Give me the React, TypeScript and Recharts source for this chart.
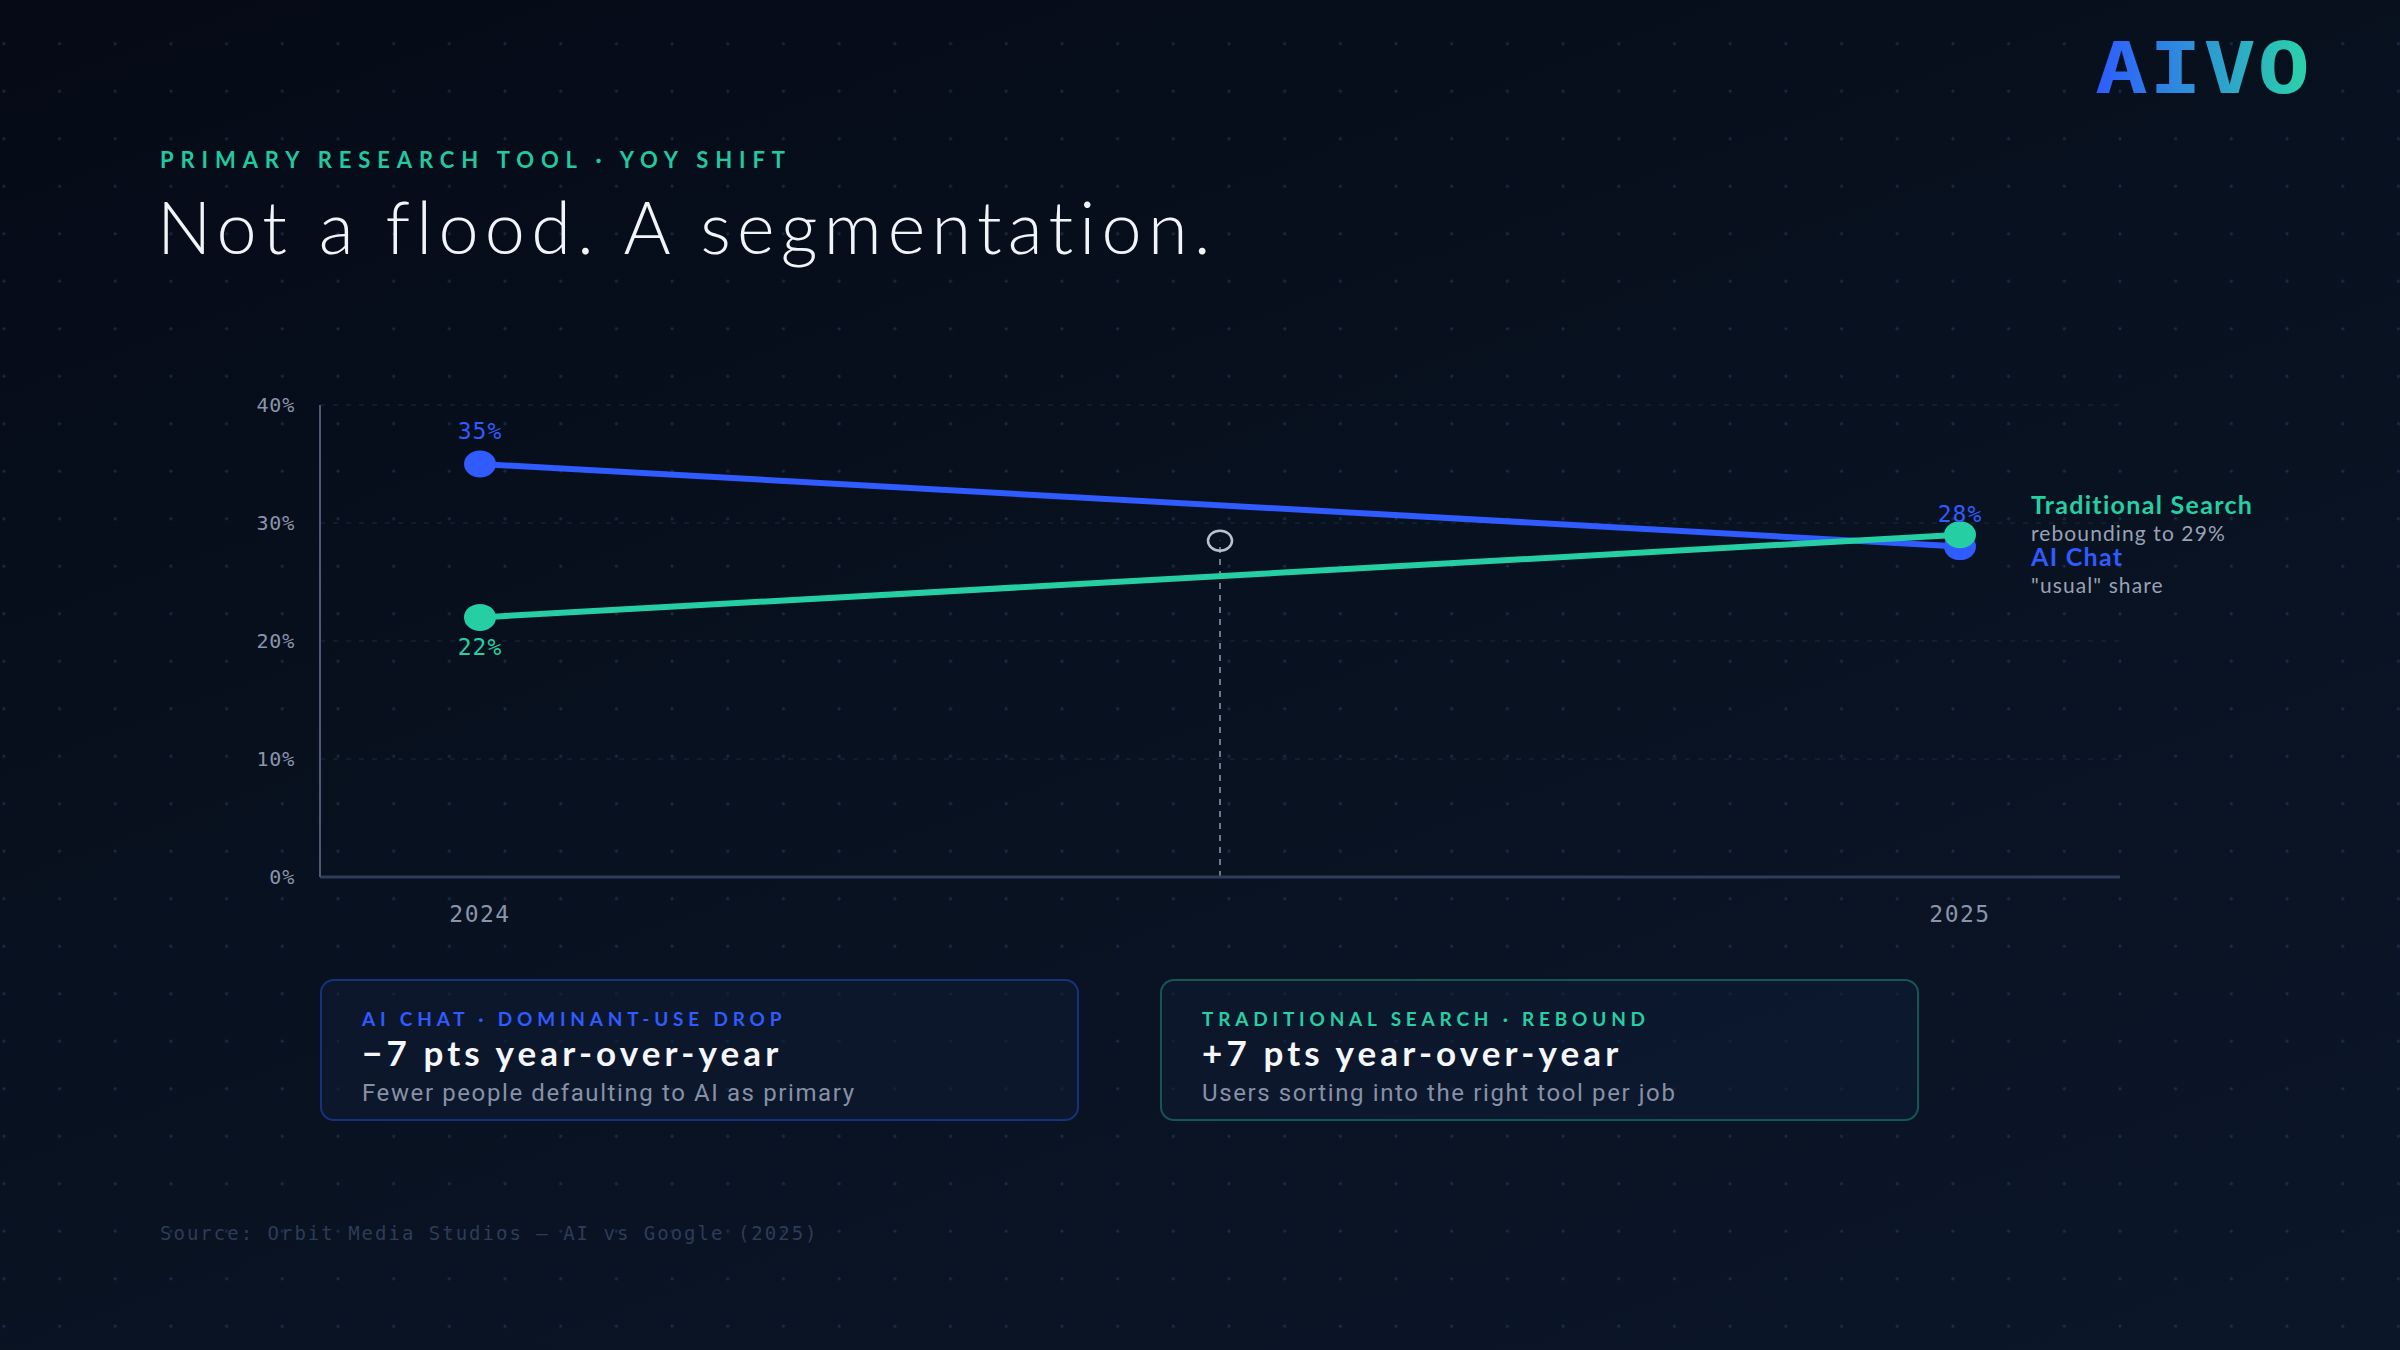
import React from "react"
import { LineChart, Line, XAxis, YAxis, CartesianGrid, LabelList, ReferenceLine, ReferenceDot } from "recharts"

const years = [2024, 2025]
const aiChat = [35, 28]
const traditionalSearch = [22, 29]
const yTicks = [0, 10, 20, 30, 40]
const seriesNames = ["AI Chat", "Traditional Search"]
const seriesNotes = ["\"usual\" share", "rebounding to 29%"]
const midMarker = { year: 2024.5, value: 28.5 }

const BLUE = "#2f5bff"
const GREEN = "#25cfa3"
const MONO = "'DejaVu Sans Mono', 'Liberation Mono', monospace"
const SANS = "Lato, 'Open Sans', sans-serif"

const data = years.map((year, i) => ({ year, ai: aiChat[i], search: traditionalSearch[i] }))

// value labels + end annotation for a series
const makeLabel = (color: string, name: string, note: string, valueAbove: boolean[], showValue: boolean[], nameDy: number) =>
  (props: any) => {
    const { x, y, value, index } = props
    const out: any[] = []
    if (showValue[index]) {
      out.push(
        <text key="v" x={x} y={valueAbove[index] ? y - 33 : y + 30} textAnchor="middle" dominantBaseline="central"
          fill={color} style={{ fontFamily: MONO, fontSize: 23, letterSpacing: 1 }}>
          {value}%
        </text>
      )
    }
    if (index === data.length - 1) {
      out.push(
        <text key="n" x={x + 71} y={y + nameDy} dominantBaseline="central" fill={color}
          style={{ fontFamily: SANS, fontSize: 25, fontWeight: 700, letterSpacing: 1.3 }}>{name}</text>,
        <text key="s" x={x + 71} y={y + nameDy + 29} dominantBaseline="central" fill="#98a2b4"
          style={{ fontFamily: SANS, fontSize: 21, letterSpacing: 1.1 }}>{note}</text>
      )
    }
    return <g>{out}</g>
  }

const dotFor = (color: string) => (p: any) => (
  <ellipse key={`${color}-${p.index}`} cx={p.cx} cy={p.cy} rx={16} ry={13.5} fill={color} />
)

const Card = ({ left, border, color, eyebrow, head, sub }: any) => (
  <div style={{
    position: "absolute", left, top: 979, width: 759, height: 142, boxSizing: "border-box",
    border: `2px solid ${border}`, borderRadius: 14, background: "rgba(14,28,52,0.55)"
  }}>
    <div style={{ position: "absolute", left: 40, top: 28, fontFamily: SANS, fontWeight: 700, fontSize: 19, letterSpacing: 4.8, color, lineHeight: "19px", whiteSpace: "nowrap" }}>{eyebrow}</div>
    <div style={{ position: "absolute", left: 40, top: 54, fontFamily: SANS, fontWeight: 700, fontSize: 35, letterSpacing: 4.1, color: "#f4f6fa", lineHeight: "35px", whiteSpace: "nowrap" }}>{head}</div>
    <div style={{ position: "absolute", left: 40, top: 100, fontFamily: "Roboto, sans-serif", fontSize: 24, letterSpacing: 1.6, color: "#8791a5", lineHeight: "24px", whiteSpace: "nowrap" }}>{sub}</div>
  </div>
)

export default function App() {
  return (
    <div style={{
      position: "absolute", left: 0, top: 0, width: 2400, height: 1350, overflow: "hidden",
      backgroundColor: "#07101f",
      backgroundImage: "radial-gradient(circle, rgba(70,100,170,0.3) 1.3px, transparent 1.8px), linear-gradient(160deg, #050a16 0%, #08111f 45%, #0b1629 100%)",
      backgroundSize: "55.7px 47.5px, 100% 100%",
      backgroundPosition: "-24px 20px, 0 0"
    }}>
      <div style={{
        position: "absolute", left: 2095, top: 26, fontFamily: MONO, fontWeight: 700, fontSize: 72, letterSpacing: 1,
        lineHeight: "84px", transform: "scaleX(1.22)", transformOrigin: "0 0",
        background: `linear-gradient(90deg, ${BLUE}, #2bd4a8)`,
        WebkitBackgroundClip: "text", backgroundClip: "text", color: "transparent"
      }}>AIVO</div>

      <div style={{ position: "absolute", left: 160, top: 149, fontFamily: SANS, fontWeight: 700, fontSize: 22, letterSpacing: 6.9, color: "#22c9a0", lineHeight: "22px", whiteSpace: "nowrap" }}>
        PRIMARY RESEARCH TOOL · YOY SHIFT
      </div>
      <div style={{ position: "absolute", left: 157, top: 190, fontFamily: SANS, fontWeight: 300, fontSize: 72, letterSpacing: 6.2, color: "#f1f4f9", lineHeight: "72px", whiteSpace: "nowrap" }}>
        Not a flood. A segmentation.
      </div>

      <div style={{ position: "absolute", left: 0, top: 0 }}>
        <LineChart width={2400} height={1000} data={data} margin={{ top: 405, left: 240, right: 280, bottom: 63 }}>
          <CartesianGrid vertical={false} stroke="#1c2840" strokeDasharray="5 8" />
          <XAxis type="number" dataKey="year" domain={[2024, 2025]} ticks={years} padding={{ left: 160, right: 160 }}
            height={60} tickLine={false} tickMargin={23} axisLine={{ stroke: "#2e3d59", strokeWidth: 3 }}
            tick={{ fill: "#8a95ab", fontSize: 23, fontFamily: MONO, letterSpacing: 1.5 }} />
          <YAxis domain={[0, 40]} ticks={yTicks} width={80} tickLine={false} tickMargin={19}
            axisLine={{ stroke: "#4d5a73", strokeWidth: 2 }} tickFormatter={(v) => `${v}%`}
            tick={{ fill: "#8a95ab", fontSize: 20, fontFamily: MONO, letterSpacing: 0.8 }} />
          <ReferenceLine segment={[{ x: midMarker.year, y: 0 }, { x: midMarker.year, y: midMarker.value }]}
            stroke="#6f798c" strokeWidth={2} strokeDasharray="6 6" />
          <Line dataKey="ai" name={seriesNames[0]} stroke={BLUE} strokeWidth={6} dot={dotFor(BLUE)} activeDot={false} isAnimationActive={false}>
            <LabelList dataKey="ai" content={makeLabel(BLUE, seriesNames[0], seriesNotes[0], [true, true], [true, true], 9)} />
          </Line>
          <Line dataKey="search" name={seriesNames[1]} stroke={GREEN} strokeWidth={6} dot={dotFor(GREEN)} activeDot={false} isAnimationActive={false}>
            <LabelList dataKey="search" content={makeLabel(GREEN, seriesNames[1], seriesNotes[1], [false, false], [true, false], -31)} />
          </Line>
          <ReferenceDot x={midMarker.year} y={midMarker.value} r={11}
            shape={(p: any) => <ellipse cx={p.cx} cy={p.cy} rx={12} ry={10} fill="none" stroke="#b9c1cd" strokeWidth={2.5} />} />
        </LineChart>
      </div>

      <Card left={320} border="rgba(47,91,255,0.38)" color={BLUE} eyebrow="AI CHAT · DOMINANT-USE DROP" head="−7 pts year-over-year" sub="Fewer people defaulting to AI as primary" />
      <Card left={1160} border="rgba(37,207,163,0.35)" color={GREEN} eyebrow="TRADITIONAL SEARCH · REBOUND" head="+7 pts year-over-year" sub="Users sorting into the right tool per job" />

      <div style={{ position: "absolute", left: 160, top: 1223, fontFamily: MONO, fontSize: 19, letterSpacing: 2, color: "#2d3c58", lineHeight: "20px", whiteSpace: "nowrap" }}>
        Source: Orbit Media Studios — AI vs Google (2025)
      </div>
    </div>
  )
}
